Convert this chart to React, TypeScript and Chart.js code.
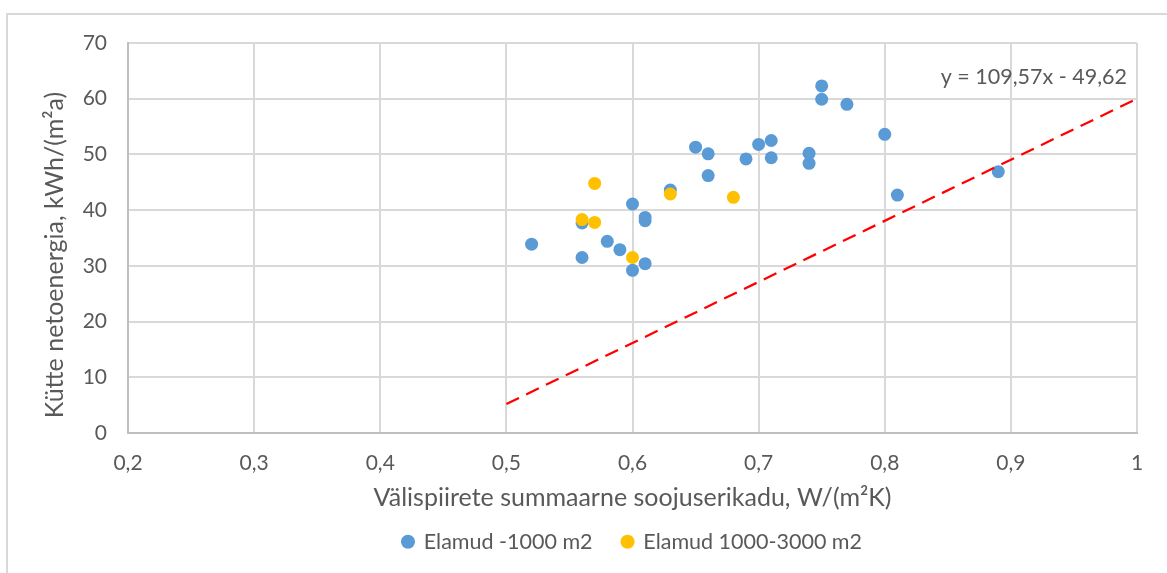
import React, { useEffect, useRef } from "react";
import { Chart, registerables } from "chart.js";
Chart.register(...registerables);

const seriesNames = ["Elamud -1000 m2", "Elamud 1000-3000 m2"];
const blueX = [0.52, 0.56, 0.56, 0.58, 0.59, 0.6, 0.6, 0.61, 0.61, 0.61, 0.63, 0.65, 0.66, 0.66, 0.69, 0.7, 0.71, 0.71, 0.74, 0.74, 0.75, 0.75, 0.77, 0.8, 0.81, 0.89];
const blueY = [33.9, 37.7, 31.5, 34.4, 32.9, 41.1, 29.2, 38.7, 38.1, 30.4, 43.6, 51.3, 50.1, 46.2, 49.2, 51.8, 52.5, 49.4, 50.2, 48.4, 62.3, 59.9, 59.0, 53.6, 42.7, 46.9];
const yellowX = [0.57, 0.56, 0.57, 0.6, 0.63, 0.68];
const yellowY = [44.8, 38.3, 37.8, 31.5, 42.9, 42.3];
const trendX = [0.5, 1.0];
const trendY = [5.2, 60.0];
const equationText = "y = 109,57x - 49,62";
const xTitle = "Välispiirete summaarne soojuserikadu, W/(m²K)";
const yTitle = "Kütte netoenergia, kWh/(m²a)";
const xRange = [0.2, 1.0];
const yRange = [0, 70];

const FONT = "Lato";
const TEXT = "#595959";

const textPlugin = {
  id: "extraText",
  afterDatasetsDraw(chart: any) {
    const { ctx, chartArea } = chart;
    ctx.save();
    ctx.font = `21.5px ${FONT}`;
    ctx.fillStyle = TEXT;
    ctx.textAlign = "right";
    ctx.textBaseline = "middle";
    ctx.fillText(equationText, chartArea.right - 10, chartArea.top + 34);
    ctx.restore();

    // y-axis title (offset downward like the original)
    ctx.save();
    ctx.font = `25px ${FONT}`;
    ctx.fillStyle = TEXT;
    ctx.textAlign = "center";
    ctx.textBaseline = "middle";
    ctx.translate(55, (chartArea.top + chartArea.bottom) / 2 + 17);
    ctx.rotate(-Math.PI / 2);
    ctx.fillText(yTitle, 0, 0);
    ctx.restore();
  },
};

export default function App() {
  const ref = useRef<HTMLCanvasElement>(null);
  useEffect(() => {
    if (!ref.current) return;
    const pts = (xs: number[], ys: number[]) => xs.map((x, i) => ({ x, y: ys[i] }));
    const chart = new Chart(ref.current, {
      type: "scatter",
      data: {
        datasets: [
          {
            label: "trend",
            type: "line",
            data: pts(trendX, trendY),
            borderColor: "#ff0000",
            borderWidth: 2.25,
            borderDash: [14, 8],
            pointRadius: 0,
            fill: false,
            order: 0,
          } as any,
          {
            label: seriesNames[1],
            data: pts(yellowX, yellowY),
            backgroundColor: "#ffc000",
            borderColor: "#ffc000",
            pointRadius: 6.5,
            pointBorderWidth: 0,
            order: 1,
          },
          {
            label: seriesNames[0],
            data: pts(blueX, blueY),
            backgroundColor: "#5b9bd5",
            borderColor: "#5b9bd5",
            pointRadius: 6.5,
            pointBorderWidth: 0,
            order: 2,
          },
        ],
      },
      options: {
        animation: false,
        responsive: false,
        maintainAspectRatio: false,
        layout: { padding: { left: 0, top: 43, right: 30, bottom: 10.5 } },
        plugins: {
          tooltip: { enabled: false },
          legend: {
            position: "bottom",
            fullSize: false,
            reverse: true,
            labels: {
              filter: (item: any) => item.text !== "trend",
              usePointStyle: true,
              pointStyle: "circle",
              boxWidth: 10,
              boxHeight: 10,
              padding: 30,
              color: TEXT,
              font: { family: FONT, size: 21.5 },
            },
          },
        },
        scales: {
          x: {
            type: "linear",
            min: xRange[0],
            max: xRange[1],
            ticks: {
              stepSize: 0.1,
              padding: 18,
              color: TEXT,
              font: { family: FONT, size: 21 },
              callback: (v: any) => String(Math.round(Number(v) * 10) / 10).replace(".", ","),
            },
            grid: { color: "#d9d9d9", lineWidth: 2, drawTicks: false },
            border: { color: "#bfbfbf", width: 2 },
            title: {
              display: true,
              text: xTitle,
              color: TEXT,
              font: { family: FONT, size: 25 },
              padding: { top: 0, bottom: -12 },
            },
            afterFit: (s: any) => {
              s.height = 68;
            },
          },
          y: {
            type: "linear",
            min: yRange[0],
            max: yRange[1],
            ticks: {
              stepSize: 10,
              padding: 21,
              color: TEXT,
              font: { family: FONT, size: 21 },
            },
            grid: { color: "#d9d9d9", lineWidth: 2, drawTicks: false },
            border: { color: "#bfbfbf", width: 2 },
            title: { display: false },
            afterFit: (s: any) => {
              s.width = 128;
            },
          },
        },
      },
      plugins: [textPlugin],
    });
    return () => chart.destroy();
  }, []);
  return (
    <div>
      <div
        style={{
          position: "absolute",
          left: 6,
          top: 13,
          width: 1200,
          height: 600,
          borderTop: "2px solid #d9d9d9",
          borderLeft: "2px solid #d9d9d9",
          boxSizing: "border-box",
        }}
      />
      <canvas
        ref={ref}
        width={1167}
        height={573}
        style={{ position: "absolute", left: 0, top: 0, width: 1167, height: 573 }}
      />
    </div>
  );
}
